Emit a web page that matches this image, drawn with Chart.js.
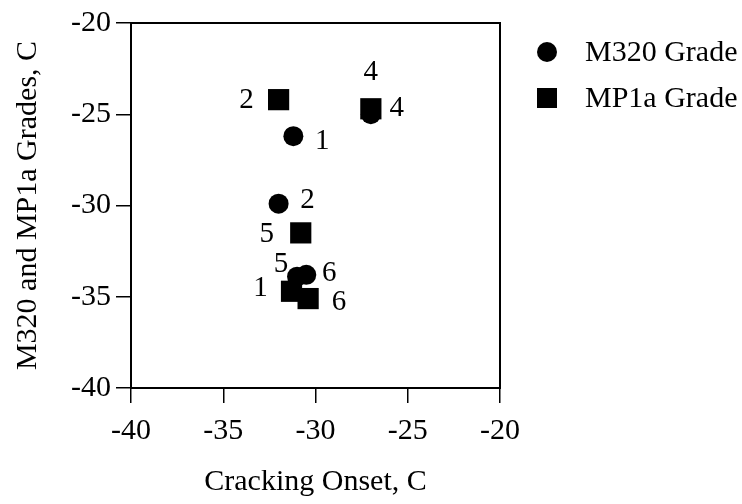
<!DOCTYPE html>
<html>
<head>
<meta charset="utf-8">
<script src="https://cdn.jsdelivr.net/npm/chart.js@4.4.1/dist/chart.umd.min.js"></script>
<style>
  html, body { margin: 0; padding: 0; background: #fff; }
  #wrap { width: 742px; height: 504px; }
</style>
</head>
<body>
<div id="wrap"><canvas id="onsetChart" width="742" height="504"></canvas></div>
<script>
// Cracking onset vs grade temperature, one point per section
var m320Ids   = ['1', '2', '4', '5', '6'];
var m320Onset = [-31.2, -32.0, -27.0, -31.0, -30.5];
var m320Grade = [-26.2, -29.9, -25.0, -33.9, -33.8];

var mp1aIds   = ['1', '2', '4', '5', '6'];
var mp1aOnset = [-31.3, -32.0, -27.0, -30.8, -30.4];
var mp1aGrade = [-34.7, -24.2, -24.7, -31.5, -35.1];

var axisTicks = [-40, -35, -30, -25, -20];

// where each section number sits next to its marker
var m320LabelOffsets = [[29, 5], [29, -3], [0, -42], [-16, -12], [23, -1]];
var mp1aLabelOffsets = [[-31, -3], [-32, 1], [26, 0], [-34, 2], [31, 4]];

var serif = "'Liberation Serif', 'DejaVu Serif', serif";

function toPoints(xs, ys) {
    return xs.map(function(x, i) { return { x: x, y: ys[i] }; });
}

// box round the plot area
var frameBox = {
    id: 'frameBox',
    afterDatasetsDraw: function(chart) {
        var a = chart.chartArea, ctx = chart.ctx;
        ctx.save();
        ctx.strokeStyle = '#000';
        ctx.lineWidth = 2;
        ctx.strokeRect(a.left, a.top, a.right - a.left, a.bottom - a.top);
        ctx.restore();
    }
};

// section numbers beside the markers
var pointNumbers = {
    id: 'pointNumbers',
    afterDatasetsDraw: function(chart) {
        var ctx = chart.ctx;
        ctx.save();
        ctx.fillStyle = '#000';
        ctx.font = '29px ' + serif;
        ctx.textAlign = 'center';
        ctx.textBaseline = 'middle';
        chart.data.datasets.forEach(function(ds, di) {
            var meta = chart.getDatasetMeta(di);
            meta.data.forEach(function(el, i) {
                var off = ds.labelOffsets[i];
                ctx.fillText(ds.ids[i], el.x + off[0], el.y + off[1]);
            });
        });
        ctx.restore();
    }
};

// legend to the right of the plot
var sideLegend = {
    id: 'sideLegend',
    afterDraw: function(chart) {
        var ctx = chart.ctx;
        var x0 = chart.chartArea.right + 47;
        ctx.save();
        ctx.fillStyle = '#000';
        ctx.font = '30px ' + serif;
        ctx.textBaseline = 'middle';
        chart.data.datasets.forEach(function(ds, i) {
            var y = 52 + i * 46;
            if (ds.pointStyle === 'rect') {
                ctx.fillRect(x0 - 10, y - 10, 20, 20);
            } else {
                ctx.beginPath();
                ctx.arc(x0, y, 10, 0, Math.PI * 2);
                ctx.fill();
            }
            ctx.fillText(ds.label, x0 + 38, y + 1);
        });
        ctx.restore();
    }
};

function axis(title, isY) {
    return {
        type: 'linear',
        min: -40,
        max: -20,
        afterBuildTicks: function(scale) {
            scale.ticks = axisTicks.map(function(v) { return { value: v }; });
        },
        afterFit: function(scale) {
            if (isY) { scale.width = 131; } else { scale.height = 116; }
        },
        grid: { drawOnChartArea: false, drawTicks: true, tickLength: 15, color: '#000', lineWidth: 1.5 },
        border: { color: '#000', width: 2 },
        ticks: { color: '#000', font: { family: serif, size: 30 }, padding: isY ? 5 : 10 },
        title: {
            display: true,
            text: title,
            color: '#000',
            font: { family: serif, size: 30 },
            padding: isY ? { top: 10, bottom: 0 } : { top: 0, bottom: 4 }
        }
    };
}

var ctx = document.getElementById('onsetChart').getContext('2d');
var onsetChart = new Chart(ctx, {
    type: 'scatter',
    data: {
        datasets: [{
            label: 'M320 Grade',
            data: toPoints(m320Onset, m320Grade),
            ids: m320Ids,
            labelOffsets: m320LabelOffsets,
            pointStyle: 'circle',
            pointRadius: 10,
            backgroundColor: '#000',
            borderColor: '#000',
            borderWidth: 0
        }, {
            label: 'MP1a Grade',
            data: toPoints(mp1aOnset, mp1aGrade),
            ids: mp1aIds,
            labelOffsets: mp1aLabelOffsets,
            pointStyle: 'rect',
            pointRadius: 15,
            backgroundColor: '#000',
            borderColor: '#000',
            borderWidth: 0
        }]
    },
    options: {
        responsive: false,
        animation: false,
        layout: { padding: { top: 18, right: 242, left: 0, bottom: 0 } },
        plugins: {
            legend: { display: false },
            tooltip: { enabled: false }
        },
        scales: {
            x: axis('Cracking Onset, C', false),
            y: axis('M320 and MP1a Grades, C', true)
        }
    },
    plugins: [frameBox, pointNumbers, sideLegend]
});
</script>
</body>
</html>
